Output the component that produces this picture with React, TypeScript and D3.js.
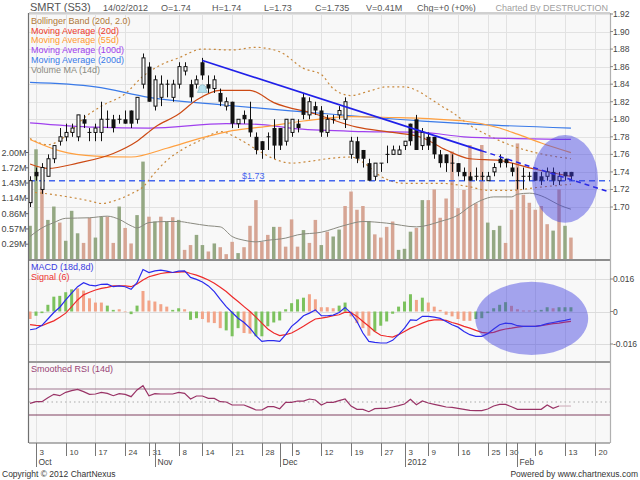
import React from 'react';
import * as d3 from 'd3';

// ---- data (index 0 = 30 Sep 2011, index 91 = 14 Feb 2012) ----
const opens = [1.705,1.74,1.72,1.735,1.755,1.775,1.78,1.785,1.78,1.80,1.785,1.785,1.785,1.80,1.80,1.80,1.80,1.81,1.80,1.84,1.86,1.815,1.825,1.84,1.825,1.84,1.855,1.84,1.84,1.865,1.84,1.835,1.83,1.815,1.82,1.795,1.805,1.80,1.78,1.775,1.78,1.79,1.79,1.775,1.785,1.795,1.825,1.805,1.815,1.81,1.785,1.80,1.805,1.80,1.76,1.775,1.765,1.75,1.735,1.75,1.76,1.76,1.76,1.77,1.795,1.80,1.77,1.78,1.78,1.76,1.76,1.75,1.75,1.74,1.735,1.735,1.735,1.73,1.74,1.755,1.755,1.745,1.73,1.735,1.735,1.74,1.735,1.735,1.74,1.73,1.74,1.74];
const highs = [1.735,1.745,1.75,1.76,1.77,1.79,1.795,1.795,1.805,1.805,1.79,1.795,1.82,1.81,1.805,1.805,1.81,1.81,1.825,1.875,1.865,1.85,1.85,1.845,1.845,1.865,1.865,1.845,1.85,1.87,1.85,1.85,1.835,1.825,1.82,1.80,1.81,1.82,1.785,1.775,1.785,1.80,1.79,1.80,1.80,1.80,1.83,1.825,1.82,1.815,1.805,1.805,1.815,1.825,1.78,1.78,1.765,1.755,1.75,1.75,1.77,1.77,1.77,1.775,1.795,1.805,1.79,1.785,1.78,1.765,1.76,1.76,1.75,1.745,1.74,1.745,1.74,1.74,1.75,1.76,1.755,1.75,1.745,1.745,1.74,1.74,1.74,1.745,1.745,1.74,1.74,1.74];
const lows = [1.70,1.73,1.715,1.735,1.75,1.77,1.775,1.78,1.775,1.79,1.775,1.775,1.775,1.79,1.785,1.795,1.795,1.79,1.795,1.835,1.82,1.81,1.815,1.825,1.82,1.835,1.85,1.82,1.835,1.845,1.83,1.83,1.815,1.81,1.79,1.79,1.795,1.78,1.76,1.755,1.765,1.755,1.765,1.77,1.78,1.785,1.80,1.80,1.805,1.78,1.78,1.795,1.80,1.79,1.755,1.75,1.745,1.73,1.73,1.74,1.75,1.76,1.76,1.765,1.77,1.765,1.765,1.765,1.755,1.745,1.74,1.74,1.735,1.73,1.73,1.73,1.73,1.73,1.735,1.745,1.745,1.735,1.72,1.72,1.73,1.73,1.725,1.73,1.725,1.725,1.73,1.73];
const closes = [1.73,1.735,1.745,1.755,1.77,1.78,1.785,1.79,1.805,1.795,1.785,1.79,1.80,1.80,1.79,1.80,1.795,1.795,1.825,1.87,1.82,1.845,1.84,1.84,1.84,1.86,1.86,1.825,1.845,1.85,1.835,1.845,1.82,1.82,1.795,1.80,1.80,1.785,1.765,1.765,1.78,1.77,1.77,1.80,1.80,1.79,1.805,1.82,1.81,1.785,1.80,1.80,1.81,1.82,1.775,1.755,1.755,1.73,1.75,1.75,1.76,1.765,1.765,1.775,1.775,1.765,1.785,1.77,1.76,1.75,1.75,1.75,1.74,1.735,1.73,1.735,1.735,1.735,1.745,1.75,1.75,1.74,1.73,1.735,1.735,1.73,1.73,1.74,1.73,1.735,1.735,1.735];

// volume in millions, with bar colour flag (g = up, p = down)
const volumes = [0.63,2.06,1.36,0.74,0.99,0.69,0.35,0.91,0.49,0.31,0.78,0.41,0.80,0.80,0.31,0.99,0.59,0.30,0.83,1.83,0.80,0.71,0.80,0.71,0.79,0.74,0.18,0.27,0.46,0.27,0.15,0.30,0.23,0.10,0.33,0.12,0.23,0.63,1.11,0.33,0.46,0.61,0.61,0.24,0.75,0.24,0.55,0.31,0.74,0.27,0.52,0.43,0.56,1.0,1.27,0.93,1.0,0.72,0.47,0.41,0.61,0.71,0.18,0.20,0.52,0.59,1.11,1.11,1.31,0.78,1.14,2.02,0.96,1.30,2.14,1.05,2.14,0.69,0.55,0.63,0.31,0.93,2.17,1.21,1.06,0.93,1.0,0.66,0.54,1.31,0.63,0.41];
const volDir = 'ggpggpgggppggppgppggpgpgpgppggpgpppgpppppgppppgppgpggppppgppppgggpgppppppppppgggppppppppgpgpp';

// MACD panel
const macd = [-0.009,-0.0085,-0.0068,-0.0037,-0.0005,0.0021,0.0057,0.009,0.0122,0.0142,0.013,0.0126,0.0134,0.0135,0.0122,0.0126,0.0122,0.0109,0.0142,0.0207,0.0192,0.020,0.0204,0.0199,0.0192,0.0199,0.020,0.0168,0.0158,0.0145,0.0126,0.0098,0.006,0.0024,-0.0005,-0.0033,-0.0054,-0.0082,-0.0119,-0.0147,-0.0143,-0.0143,-0.0147,-0.0114,-0.0073,-0.0049,-0.0021,-0.0008,0.0008,-0.0021,-0.0021,-0.0018,-0.0005,0.002,-0.0008,-0.0049,-0.0106,-0.0147,-0.0152,-0.0155,-0.0155,-0.0142,-0.0114,-0.0082,-0.0041,-0.0044,-0.0024,-0.0024,-0.0028,-0.0034,-0.0049,-0.0065,-0.0077,-0.0098,-0.0114,-0.0122,-0.0122,-0.0109,-0.0086,-0.0065,-0.0057,-0.006,-0.007,-0.0073,-0.0073,-0.0073,-0.0068,-0.006,-0.0054,-0.0049,-0.0044,-0.0037];
const signal = [-0.0065,-0.0068,-0.007,-0.0057,-0.0046,-0.0028,-0.0008,0.0024,0.0057,0.0082,0.0095,0.0106,0.0114,0.0119,0.0126,0.0126,0.0126,0.0122,0.0135,0.0155,0.0171,0.0179,0.0187,0.0191,0.0192,0.0194,0.0196,0.0187,0.0179,0.0168,0.0155,0.0139,0.0119,0.0098,0.0073,0.0049,0.0024,0,-0.0028,-0.0057,-0.0086,-0.0106,-0.0119,-0.0114,-0.0106,-0.009,-0.0073,-0.0054,-0.0037,-0.0033,-0.0028,-0.0021,-0.0016,-0.0003,-0.0005,-0.0024,-0.0049,-0.0073,-0.0098,-0.0117,-0.0122,-0.0126,-0.0114,-0.0098,-0.0082,-0.007,-0.0057,-0.0046,-0.0041,-0.0041,-0.0044,-0.0054,-0.0062,-0.0073,-0.0082,-0.0093,-0.0103,-0.0106,-0.0103,-0.0093,-0.0086,-0.0082,-0.0077,-0.0073,-0.0073,-0.0073,-0.007,-0.0065,-0.006,-0.0057,-0.0052,-0.0049];
const histogram = [-0.0037,-0.0021,-0.0008,0.0033,0.0073,0.0077,0.0095,0.0109,0.0114,0.0103,0.0065,0.0044,0.0044,0.0029,0.0008,0.0011,-0.0003,-0.0013,0.0029,0.0101,0.0054,0.0049,0.0036,0.0024,0.0008,0.0016,0.0011,-0.0041,-0.0033,-0.0037,-0.0054,-0.0057,-0.0082,-0.0093,-0.0122,-0.0082,-0.0106,-0.0109,-0.0122,-0.0122,-0.0073,-0.0054,-0.0044,0.0011,0.0041,0.006,0.0068,0.0085,0.006,0.0021,0.0021,0.0016,0.0029,0.0044,-0.0024,-0.0057,-0.0082,-0.0119,-0.0098,-0.007,-0.0049,-0.0011,0.0024,0.0049,0.0085,0.0057,0.0068,0.0044,0.0024,0.0008,-0.0016,-0.0024,-0.0037,-0.0046,-0.0046,-0.0037,-0.0033,-0.0008,0.0016,0.0033,0.0046,0.0028,0.0011,0.0005,0.0005,0.0005,0.0008,0.0021,0.0016,0.0021,0.0021,0.0021];
const histDir = 'pgggggggpppppggppggpppppggpggppppgggppgggggggggpppppggppppgggggggpgppppppppggggggppppgggpggg';

// Smoothed RSI
const rsi = [48,50.5,50.5,56.7,61.8,59.7,64.9,67.4,69.5,65.9,61.8,62.3,64.9,63.3,59.7,62.8,61.8,58.2,68.5,75.1,59.7,62.8,62.3,62.3,62.3,64.9,63.3,54.6,59.2,59.2,55.6,55.6,50.5,50,45.4,45.4,45.4,41.8,37.7,37.7,42.8,42.8,39.7,49.5,49.5,51.5,51.5,54.6,53.1,45.4,49.5,49.5,52,54.6,43.8,38.7,38.7,35.1,39.7,40.3,40.3,42.3,44.4,46.9,54.1,45.9,51.5,48.5,46.4,44.4,42.3,41.8,40.3,38.7,37.2,36.7,36.7,39.2,43.8,46.4,46.4,42.8,38.7,38.7,38.7,38.7,38.7,45.4,40.3,43.8,43.8,43.8];

// overlay lines, read as [index, value]
const bbUpper = [[0,1.778],[3,1.771],[6,1.781],[9,1.801],[12,1.815],[16,1.829],[19,1.849],[22,1.862],[25,1.870],[29,1.880],[34,1.879],[38,1.882],[42,1.877],[46,1.858],[49,1.851],[51,1.835],[54,1.827],[57,1.832],[60,1.837],[63,1.837],[65,1.833],[67,1.825],[69,1.816],[71,1.808],[74,1.793],[77,1.782],[81,1.770],[85,1.762],[91,1.755]];
const bbLower = [[0,1.717],[3,1.715],[6,1.712],[10,1.707],[12,1.704],[15,1.709],[17,1.715],[19,1.723],[21,1.739],[23,1.753],[26,1.767],[29,1.777],[32,1.786],[35,1.778],[38,1.766],[41,1.755],[44,1.750],[47,1.752],[50,1.755],[54,1.757],[56,1.751],[59,1.735],[63,1.727],[69,1.727],[74,1.723],[77,1.719],[81,1.719],[85,1.722],[91,1.726]];
const ma20 = [[0,1.749],[3,1.744],[8,1.750],[14,1.761],[18,1.775],[21,1.791],[25,1.806],[28,1.822],[32,1.833],[37,1.833],[41,1.819],[48,1.806],[55,1.791],[61,1.785],[66,1.779],[70,1.765],[74,1.755],[79,1.753],[85,1.743],[91,1.735]];
const ma55 = [[0,1.777],[5,1.764],[11,1.758],[17,1.757],[23,1.767],[29,1.779],[34,1.787],[40,1.792],[46,1.798],[54,1.803],[61,1.802],[66,1.801],[71,1.799],[73,1.798],[79,1.790],[82,1.783],[86,1.773],[91,1.762]];
const ma100 = [[0,1.796],[11,1.791],[20,1.790],[33,1.795],[39,1.794],[45,1.789],[56,1.786],[66,1.785],[73,1.780],[82,1.778],[91,1.777]];
const ma200 = [[0,1.842],[11,1.837],[20,1.825],[33,1.816],[45,1.809],[66,1.798],[76,1.794],[91,1.790]];
const volMa = [[0,0.43],[2,0.59],[4,0.69],[6,0.77],[10,0.78],[13,0.81],[15,0.75],[17,0.63],[18,0.59],[20,0.69],[23,0.71],[25,0.71],[27,0.68],[30,0.63],[32,0.61],[34,0.43],[36,0.36],[38,0.33],[40,0.36],[43,0.40],[45,0.46],[49,0.51],[53,0.64],[56,0.71],[60,0.68],[65,0.61],[69,0.71],[72,0.83],[74,0.99],[76,1.11],[78,1.17],[81,1.17],[82,1.22],[84,1.24],[86,1.19],[87,1.14],[89,1.02],[91,0.94]];
const trendSolid = [[29,1.867],[76,1.764]];
const trendDashed = [[76,1.764],[97.5,1.717]];
const supportLevel = 1.73;

// axis labels
const dayTickIdx = [1,6,11,16,20,25,29,34,39,44,49,54,59,63,67,72,77,80,85,90,95];
const dayTickLabels = ['3','10','17','24','31','8','14','21','28','5','12','19','27','3','9','16','25','30','6','13','20'];
const monthIdx = [1,21,42,63,82];
const monthLabels = ['Oct','Nov','Dec','2012','Feb'];
const volTicks = [0.286,0.571,0.857,1.143,1.429,1.714,2.0];
const volTickLabels = ['0.29M','0.57M','0.86M','1.14M','1.43M','1.72M','2.00M'];
const macdTicks = [0.016,0,-0.016];
const macdTickLabels = ['0.016','0','-0.016'];

const FONT = '"Liberation Sans", Arial, sans-serif';
const L = 29, R = 610;
const MAIN_T = 13, MAIN_B = 260, MACD_B = 362, RSI_B = 443;

export default function App() {
  const n = closes.length;
  const x = d3.scaleLinear().domain([1, 90]).range([36, 565]);
  const yP = d3.scaleLinear().domain([1.70, 1.92]).range([207, 14]);
  const yV = d3.scaleLinear().domain([0, 2.0]).range([259.5, 152.5]);
  const yM = d3.scaleLinear().domain([-0.016, 0.016]).range([344, 279]);
  const yR = d3.scaleLinear().domain([30, 70]).range([415, 389]);

  const priceLine = d3.line<number[]>().x(d => x(d[0])).y(d => yP(d[1])).curve(d3.curveMonotoneX);
  const straight = d3.line<number[]>().x(d => x(d[0])).y(d => yP(d[1]));
  const volLine = d3.line<number[]>().x(d => x(d[0])).y(d => yV(d[1])).curve(d3.curveMonotoneX);
  const seriesLine = (vals: number[], y: d3.ScaleLinear<number, number>) =>
    d3.line<number>().x((_, i) => x(i)).y(d => y(d))(vals) || '';

  const idx = d3.range(n);
  const priceTicks = yP.ticks(11);
  const gridX = dayTickIdx.map(i => Math.round(x(i)) + 0.5);

  const last = n - 1;
  const header = [
    { t: '14/02/2012', x: 103 },
    { t: `O=${opens[last]}`, x: 161 },
    { t: `H=${highs[last]}`, x: 212 },
    { t: `L=${lows[last]}`, x: 264 },
    { t: `C=${closes[last]}`, x: 315 },
    { t: `V=${volumes[last]}M`, x: 366 },
    { t: 'Chg=+0 (+0%)', x: 417 },
  ];

  const legend = [
    { t: 'Bollinger Band (20d, 2.0)', c: '#b07838' },
    { t: 'Moving Average (20d)', c: '#ee3a2a' },
    { t: 'Moving Average (55d)', c: '#ff9a30' },
    { t: 'Moving Average (100d)', c: '#a040ee' },
    { t: 'Moving Average (200d)', c: '#3a7ae8' },
    { t: 'Volume MA (14d)', c: '#8a8a80' },
  ];

  const rsiMain = rsi.slice(0, 90);
  const rsiTail = rsi.slice(89);

  return (
    <div style={{ position: 'absolute', left: 0, top: 0 }}>
      <svg width={640} height={480} fontFamily={FONT} style={{ display: 'block', background: '#fff' }}>
        <defs>
          <clipPath id="mainClip"><rect x={L} y={MAIN_T} width={R - L} height={MAIN_B - MAIN_T} /></clipPath>
          <clipPath id="macdClip"><rect x={L} y={MAIN_B} width={R - L} height={MACD_B - MAIN_B} /></clipPath>
        </defs>

        {/* header */}
        <text x={30} y={11} fontSize={11} fill="#555">SMRT (S53)</text>
        {header.map(h => (
          <text key={h.t} x={h.x} y={10.5} fontSize={9} fill="#555">{h.t}</text>
        ))}
        <text x={608} y={10.5} fontSize={9} fill="#a0a0a0" textAnchor="end">Charted By DESTRUCTION</text>

        {/* panel backgrounds */}
        <rect x={L} y={MAIN_T} width={R - L} height={RSI_B - MAIN_T} fill="#f8f8f8" />

        {/* vertical grid */}
        {gridX.map((gx, k) => (
          <line key={'gx' + k} x1={gx} x2={gx} y1={MAIN_T} y2={RSI_B} stroke="#e2e2e2" />
        ))}
        {/* price grid */}
        {priceTicks.map(p => (
          <line key={'gp' + p} x1={L} x2={R} y1={Math.round(yP(p)) + 0.5} y2={Math.round(yP(p)) + 0.5} stroke="#e2e2e2" />
        ))}
        {/* macd grid */}
        {macdTicks.map(v => (
          <line key={'gm' + v} x1={L} x2={R} y1={Math.round(yM(v)) + 0.5} y2={Math.round(yM(v)) + 0.5} stroke="#dcdcdc" />
        ))}

        {/* ---------- main panel ---------- */}
        <g clipPath="url(#mainClip)">
          {idx.map(i => {
            const top = yV(volumes[i]);
            return (
              <rect key={'v' + i} x={x(i) - 1.75} y={top} width={3.5} height={yV(0) - top}
                fill={volDir[i] === 'g' ? '#94a883' : '#d6a594'} />
            );
          })}
          <path d={volLine(volMa) || ''} fill="none" stroke="#8a8a80" strokeWidth={1} />

          <path d={priceLine(bbUpper) || ''} fill="none" stroke="#c8883c" strokeWidth={1.2} strokeDasharray="2,3" />
          <path d={priceLine(bbLower) || ''} fill="none" stroke="#c8883c" strokeWidth={1.2} strokeDasharray="2,3" />
          <path d={priceLine(ma200) || ''} fill="none" stroke="#3a7ae8" strokeWidth={1.2} />
          <path d={priceLine(ma100) || ''} fill="none" stroke="#a040ee" strokeWidth={1.2} />
          <path d={priceLine(ma55) || ''} fill="none" stroke="#ffa040" strokeWidth={1.2} />
          <path d={priceLine(ma20) || ''} fill="none" stroke="#cc4a14" strokeWidth={1.2} />

          <line x1={L} x2={R} y1={yP(supportLevel)} y2={yP(supportLevel)} stroke="#4466ee" strokeWidth={1.5} strokeDasharray="6,4" />
          <text x={242} y={yP(supportLevel) - 2} fontSize={9} fill="#4466ee">${supportLevel}</text>

          {idx.map(i => {
            const o = opens[i], c = closes[i];
            const cx = Math.round(x(i)) + 0.5;
            const up = c > o;
            const yt = yP(Math.max(o, c));
            const yb = yP(Math.min(o, c));
            const h = Math.max(yb - yt, 0);
            return (
              <g key={'c' + i}>
                <line x1={cx} x2={cx} y1={yP(highs[i])} y2={yP(lows[i])} stroke="#111" strokeWidth={1} />
                {h < 1 ? (
                  <line x1={cx - 2} x2={cx + 2} y1={yt} y2={yt} stroke="#111" strokeWidth={1} />
                ) : up ? (
                  <rect x={cx - 1.5} y={yt} width={3} height={h} fill="#fff" stroke="#111" strokeWidth={1} />
                ) : (
                  <rect x={cx - 2} y={yt} width={4} height={h} fill="#111" />
                )}
              </g>
            );
          })}

          <path d={straight(trendSolid) || ''} fill="none" stroke="#2020e8" strokeWidth={1.8} />
          <path d={straight(trendDashed) || ''} fill="none" stroke="#2020e8" strokeWidth={1.5} strokeDasharray="5,4" />

          {/* alert marker */}
          <g transform={`translate(${x(29)},${yP(1.834)})`}>
            <path d="M-5,3 L5,3 L3.5,0 L3.5,-2.5 Q0,-7 -3.5,-2.5 L-3.5,0 Z" fill="#b6e2ee" stroke="#7aaab8" strokeWidth={0.6} />
          </g>

          <ellipse cx={x(90)} cy={yP(1.732)} rx={x(90) - x(84.45)} ry={yP(1.682) - yP(1.732)} fill="#3c3ce0" fillOpacity={0.45} />
        </g>

        {legend.map((l, k) => (
          <text key={l.t} x={31} y={24 + k * 9.7} fontSize={9} fill={l.c}>{l.t}</text>
        ))}

        {/* ---------- MACD panel ---------- */}
        <g clipPath="url(#macdClip)">
          {idx.map(i => {
            const v = histogram[i];
            const y0 = yM(0), y1 = yM(v);
            return (
              <rect key={'h' + i} x={x(i) - 1.5} y={Math.min(y0, y1)} width={3} height={Math.abs(y1 - y0)}
                fill={histDir[i] === 'g' ? '#7cc25e' : '#f2a488'} />
            );
          })}
          <path d={seriesLine(signal, yM)} fill="none" stroke="#ee2a2a" strokeWidth={1.2} />
          <path d={seriesLine(macd, yM)} fill="none" stroke="#2a2aee" strokeWidth={1.2} />
          <ellipse cx={x(84.4)} cy={yM(-0.0034)} rx={x(84.4) - x(74.9)} ry={yM(-0.0214) - yM(-0.0034)} fill="#3c3ce0" fillOpacity={0.45} />
        </g>
        <text x={31} y={270} fontSize={9} fill="#3a3ae0">MACD (18d,8d)</text>
        <text x={31} y={279.5} fontSize={9} fill="#ee3333">Signal (6)</text>

        {/* ---------- RSI panel ---------- */}
        <line x1={L} x2={R} y1={yR(70)} y2={yR(70)} stroke="#a07890" />
        <line x1={L} x2={R} y1={yR(30)} y2={yR(30)} stroke="#804060" />
        <line x1={L} x2={R} y1={yR(50)} y2={yR(50)} stroke="#aaa" strokeDasharray="1.5,3" />
        <path d={seriesLine(rsiMain, yR)} fill="none" stroke="#993366" strokeWidth={1.2} />
        <path d={d3.line<number>().x((_, i) => x(i + 89)).y(d => yR(d))(rsiTail) || ''} fill="none" stroke="#d2b4c0" strokeWidth={1.2} />
        <text x={31} y={372} fontSize={9} fill="#994477">Smoothed RSI (14d)</text>

        {/* panel borders */}
        <line x1={L} x2={R} y1={MAIN_T} y2={MAIN_T} stroke="#d0d0d0" strokeWidth={2} />
        <line x1={L} x2={R} y1={MAIN_B} y2={MAIN_B} stroke="#8c8c8c" strokeWidth={2} />
        <line x1={L} x2={R} y1={MACD_B} y2={MACD_B} stroke="#9a9a9a" strokeWidth={2} />
        <line x1={L} x2={R} y1={RSI_B} y2={RSI_B} stroke="#9a9a9a" strokeWidth={1.5} />
        <line x1={L - 0.5} x2={L - 0.5} y1={MAIN_T} y2={RSI_B} stroke="#707070" strokeWidth={1.2} />
        <line x1={R + 0.5} x2={R + 0.5} y1={MAIN_T} y2={RSI_B} stroke="#b0b0b0" strokeWidth={1.2} />

        {/* right price axis */}
        {priceTicks.map(p => (
          <g key={'pt' + p}>
            <line x1={R} x2={R + 3} y1={yP(p)} y2={yP(p)} stroke="#888" />
            <text x={613} y={yP(p) + 3} fontSize={8.5} fill="#444">{d3.format('.2f')(p)}</text>
          </g>
        ))}
        {macdTicks.map((v, k) => (
          <g key={'mt' + k}>
            <line x1={R} x2={R + 3} y1={yM(v)} y2={yM(v)} stroke="#888" />
            <text x={613} y={yM(v) + 3} fontSize={8.5} fill="#444">{macdTickLabels[k]}</text>
          </g>
        ))}

        {/* left volume axis */}
        {volTicks.map((v, k) => (
          <g key={'vt' + k}>
            <line x1={L - 3} x2={L} y1={yV(v)} y2={yV(v)} stroke="#666" />
            <text x={26.5} y={yV(v) + 3} fontSize={9} fill="#444" textAnchor="end">{volTickLabels[k]}</text>
          </g>
        ))}

        {/* date axis */}
        {dayTickIdx.map((i, k) => (
          <g key={'dt' + k}>
            <line x1={gridX[k]} x2={gridX[k]} y1={RSI_B} y2={456} stroke="#777" />
            <text x={gridX[k] + 3} y={455} fontSize={8} fill="#444">{dayTickLabels[k]}</text>
          </g>
        ))}
        {monthIdx.map((i, k) => {
          const mx = Math.round(x(i)) + 0.5;
          return (
            <g key={'mo' + k}>
              <line x1={mx} x2={mx} y1={RSI_B} y2={467} stroke="#777" />
              <text x={mx + 2} y={465} fontSize={8.5} fill="#444">{monthLabels[k]}</text>
            </g>
          );
        })}

        <text x={2} y={477} fontSize={8.5} fill="#333">Copyright © 2012 ChartNexus</text>
        <text x={638} y={477} fontSize={8.5} fill="#333" textAnchor="end">Powered by www.chartnexus.com</text>
      </svg>
    </div>
  );
}
